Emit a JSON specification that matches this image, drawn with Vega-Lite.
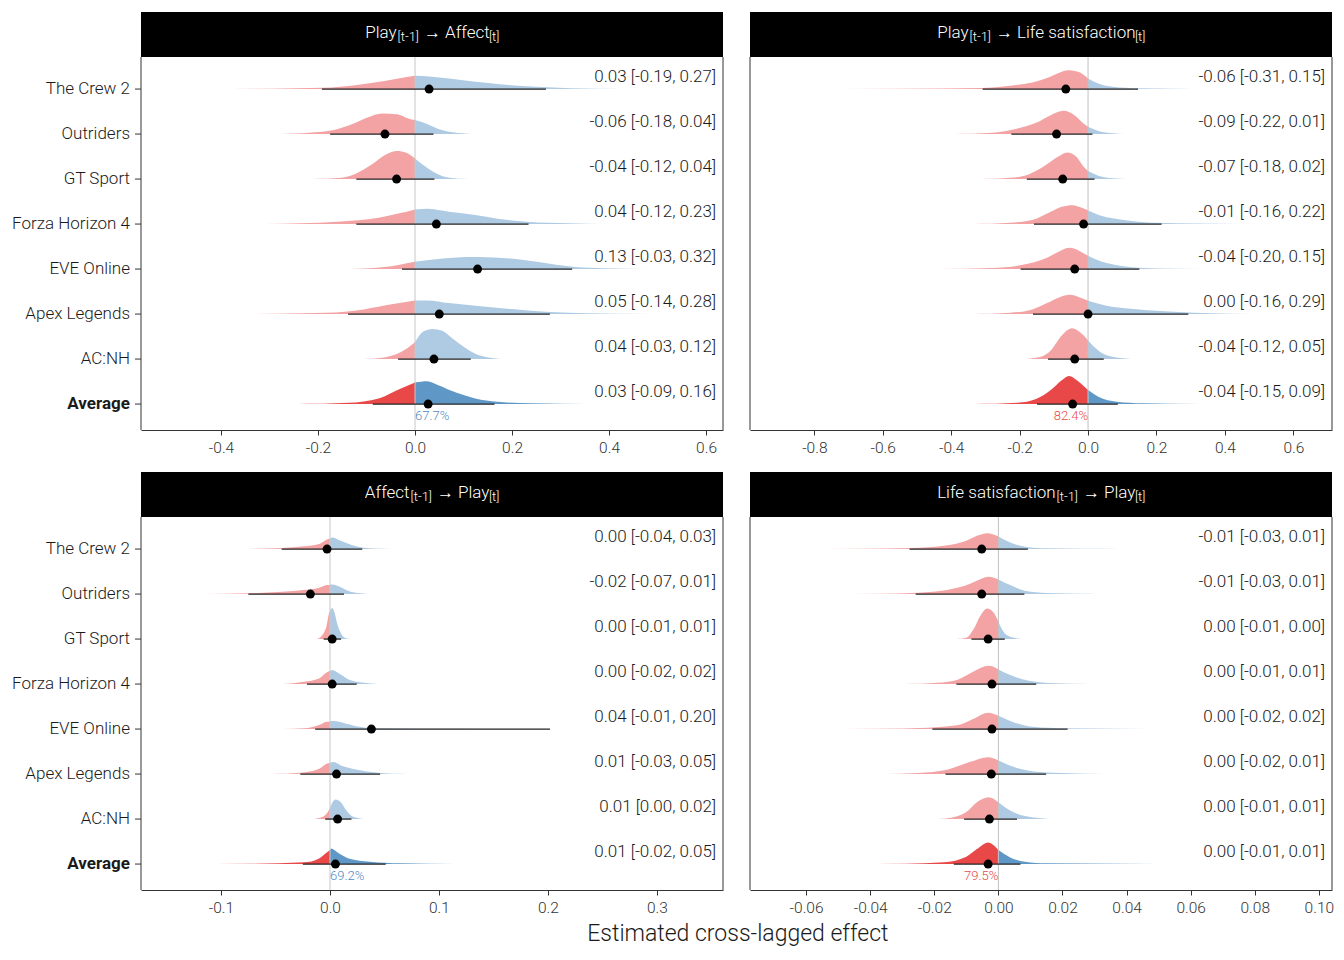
{
"$schema": "https://vega.github.io/schema/vega-lite/v6.json",
"padding": {"left": 12, "top": 12, "right": 12, "bottom": 8},
"title": {"text": "Estimated cross-lagged effect", "orient": "bottom", "anchor": "middle", "fontSize": 23, "font": "Roboto", "fontWeight": 300, "color": "#1a1a1a", "offset": 7, "dx": 65},
"columns": 2,
"spacing": {"row": 16, "column": 25},
"resolve": {"scale": {"x": "independent", "y": "independent"}},
"config": {"view": {"stroke": null}, "font": "Roboto", "text": {"font": "Roboto", "fontWeight": 300, "color": "#1a1a1a"}},
"datasets": {
"A": [
{"g":"_strip"},
{"g":"The Crew 2","e":0.029,"lo":-0.192,"hi":0.27,"t":"0.03 [-0.19, 0.27]"},
{"g":"Outriders","e":-0.062,"lo":-0.175,"hi":0.038,"t":"-0.06 [-0.18, 0.04]"},
{"g":"GT Sport","e":-0.038,"lo":-0.121,"hi":0.04,"t":"-0.04 [-0.12, 0.04]"},
{"g":"Forza Horizon 4","e":0.044,"lo":-0.121,"hi":0.234,"t":"0.04 [-0.12, 0.23]"},
{"g":"EVE Online","e":0.129,"lo":-0.027,"hi":0.324,"t":"0.13 [-0.03, 0.32]"},
{"g":"Apex Legends","e":0.05,"lo":-0.138,"hi":0.278,"t":"0.05 [-0.14, 0.28]"},
{"g":"AC:NH","e":0.039,"lo":-0.035,"hi":0.115,"t":"0.04 [-0.03, 0.12]"},
{"g":"Average","e":0.027,"lo":-0.087,"hi":0.164,"t":"0.03 [-0.09, 0.16]","pct":"67.7%"},
{"g":"The Crew 2","s":"n","x":-0.43,"h":0},{"g":"The Crew 2","s":"n","x":-0.30,"h":0.4},{"g":"The Crew 2","s":"n","x":-0.19,"h":1.2},{"g":"The Crew 2","s":"n","x":-0.12,"h":4.2},{"g":"The Crew 2","s":"n","x":-0.06,"h":8.3},{"g":"The Crew 2","s":"n","x":-0.02,"h":11.8},{"g":"The Crew 2","s":"n","x":0,"h":13.3},
{"g":"The Crew 2","s":"p","x":0,"h":13.3},{"g":"The Crew 2","s":"p","x":0.03,"h":12.6},{"g":"The Crew 2","s":"p","x":0.07,"h":10.5},{"g":"The Crew 2","s":"p","x":0.12,"h":7.5},{"g":"The Crew 2","s":"p","x":0.18,"h":4.5},{"g":"The Crew 2","s":"p","x":0.25,"h":2.2},{"g":"The Crew 2","s":"p","x":0.32,"h":0.8},{"g":"The Crew 2","s":"p","x":0.43,"h":0},
{"g":"Outriders","s":"n","x":-0.28,"h":0},{"g":"Outriders","s":"n","x":-0.206,"h":1.7},{"g":"Outriders","s":"n","x":-0.167,"h":4},{"g":"Outriders","s":"n","x":-0.129,"h":10},{"g":"Outriders","s":"n","x":-0.098,"h":16.7},{"g":"Outriders","s":"n","x":-0.068,"h":20.7},{"g":"Outriders","s":"n","x":-0.037,"h":20},{"g":"Outriders","s":"n","x":-0.014,"h":15.7},{"g":"Outriders","s":"n","x":0,"h":14},
{"g":"Outriders","s":"p","x":0,"h":14},{"g":"Outriders","s":"p","x":0.025,"h":10},{"g":"Outriders","s":"p","x":0.048,"h":5},{"g":"Outriders","s":"p","x":0.078,"h":1.7},{"g":"Outriders","s":"p","x":0.117,"h":0},
{"g":"GT Sport","s":"n","x":-0.213,"h":0},{"g":"GT Sport","s":"n","x":-0.152,"h":1.3},{"g":"GT Sport","s":"n","x":-0.121,"h":5.7},{"g":"GT Sport","s":"n","x":-0.091,"h":14},{"g":"GT Sport","s":"n","x":-0.06,"h":24.7},{"g":"GT Sport","s":"n","x":-0.037,"h":28.3},{"g":"GT Sport","s":"n","x":-0.018,"h":26.3},{"g":"GT Sport","s":"n","x":0,"h":20.7},
{"g":"GT Sport","s":"p","x":0,"h":20.7},{"g":"GT Sport","s":"p","x":0.017,"h":14},{"g":"GT Sport","s":"p","x":0.04,"h":6.7},{"g":"GT Sport","s":"p","x":0.071,"h":1.3},{"g":"GT Sport","s":"p","x":0.109,"h":0},
{"g":"Forza Horizon 4","s":"n","x":-0.31,"h":0},{"g":"Forza Horizon 4","s":"n","x":-0.16,"h":2.3},{"g":"Forza Horizon 4","s":"n","x":-0.075,"h":6.3},{"g":"Forza Horizon 4","s":"n","x":-0.03,"h":11},{"g":"Forza Horizon 4","s":"n","x":0,"h":14.7},
{"g":"Forza Horizon 4","s":"p","x":0,"h":14.7},{"g":"Forza Horizon 4","s":"p","x":0.025,"h":15.3},{"g":"Forza Horizon 4","s":"p","x":0.07,"h":12.3},{"g":"Forza Horizon 4","s":"p","x":0.124,"h":9},{"g":"Forza Horizon 4","s":"p","x":0.17,"h":5.3},{"g":"Forza Horizon 4","s":"p","x":0.23,"h":2.3},{"g":"Forza Horizon 4","s":"p","x":0.316,"h":0.7},{"g":"Forza Horizon 4","s":"p","x":0.39,"h":0},
{"g":"EVE Online","s":"n","x":-0.137,"h":0},{"g":"EVE Online","s":"n","x":-0.068,"h":1.7},{"g":"EVE Online","s":"n","x":-0.029,"h":4.7},{"g":"EVE Online","s":"n","x":0,"h":7.3},
{"g":"EVE Online","s":"p","x":0,"h":7.3},{"g":"EVE Online","s":"p","x":0.048,"h":10},{"g":"EVE Online","s":"p","x":0.109,"h":12},{"g":"EVE Online","s":"p","x":0.163,"h":11.7},{"g":"EVE Online","s":"p","x":0.224,"h":9},{"g":"EVE Online","s":"p","x":0.278,"h":5.3},{"g":"EVE Online","s":"p","x":0.33,"h":2},{"g":"EVE Online","s":"p","x":0.39,"h":0.7},{"g":"EVE Online","s":"p","x":0.48,"h":0},
{"g":"Apex Legends","s":"n","x":-0.344,"h":0},{"g":"Apex Legends","s":"n","x":-0.183,"h":1.3},{"g":"Apex Legends","s":"n","x":-0.106,"h":4.7},{"g":"Apex Legends","s":"n","x":-0.045,"h":10},{"g":"Apex Legends","s":"n","x":0,"h":13.7},
{"g":"Apex Legends","s":"p","x":0,"h":13.7},{"g":"Apex Legends","s":"p","x":0.025,"h":13.7},{"g":"Apex Legends","s":"p","x":0.07,"h":11},{"g":"Apex Legends","s":"p","x":0.14,"h":7.7},{"g":"Apex Legends","s":"p","x":0.2,"h":5},{"g":"Apex Legends","s":"p","x":0.278,"h":2},{"g":"Apex Legends","s":"p","x":0.355,"h":0.7},{"g":"Apex Legends","s":"p","x":0.49,"h":0},
{"g":"AC:NH","s":"n","x":-0.106,"h":0},{"g":"AC:NH","s":"n","x":-0.068,"h":1.3},{"g":"AC:NH","s":"n","x":-0.029,"h":7},{"g":"AC:NH","s":"n","x":0,"h":17},
{"g":"AC:NH","s":"p","x":0,"h":17},{"g":"AC:NH","s":"p","x":0.017,"h":27.7},{"g":"AC:NH","s":"p","x":0.036,"h":30.3},{"g":"AC:NH","s":"p","x":0.055,"h":28.7},{"g":"AC:NH","s":"p","x":0.078,"h":20.3},{"g":"AC:NH","s":"p","x":0.101,"h":12},{"g":"AC:NH","s":"p","x":0.132,"h":3.7},{"g":"AC:NH","s":"p","x":0.178,"h":0},
{"g":"Average","s":"n","x":-0.244,"h":0},{"g":"Average","s":"n","x":-0.137,"h":1.3},{"g":"Average","s":"n","x":-0.075,"h":5.7},{"g":"Average","s":"n","x":-0.029,"h":15.7},{"g":"Average","s":"n","x":0,"h":21.7},
{"g":"Average","s":"p","x":0,"h":21.7},{"g":"Average","s":"p","x":0.025,"h":23},{"g":"Average","s":"p","x":0.048,"h":19},{"g":"Average","s":"p","x":0.086,"h":11.3},{"g":"Average","s":"p","x":0.124,"h":5.7},{"g":"Average","s":"p","x":0.17,"h":2.3},{"g":"Average","s":"p","x":0.24,"h":0.7},{"g":"Average","s":"p","x":0.355,"h":0}
],
"B": [
{"g":"_strip"},
{"g":"The Crew 2","e":-0.065,"lo":-0.308,"hi":0.146,"t":"-0.06 [-0.31, 0.15]"},
{"g":"Outriders","e":-0.092,"lo":-0.224,"hi":0.013,"t":"-0.09 [-0.22, 0.01]"},
{"g":"GT Sport","e":-0.074,"lo":-0.179,"hi":0.019,"t":"-0.07 [-0.18, 0.02]"},
{"g":"Forza Horizon 4","e":-0.013,"lo":-0.158,"hi":0.215,"t":"-0.01 [-0.16, 0.22]"},
{"g":"EVE Online","e":-0.039,"lo":-0.197,"hi":0.15,"t":"-0.04 [-0.20, 0.15]"},
{"g":"Apex Legends","e":0.0,"lo":-0.161,"hi":0.293,"t":"0.00 [-0.16, 0.29]"},
{"g":"AC:NH","e":-0.039,"lo":-0.117,"hi":0.046,"t":"-0.04 [-0.12, 0.05]"},
{"g":"Average","e":-0.045,"lo":-0.149,"hi":0.087,"t":"-0.04 [-0.15, 0.09]","pct":"82.4%"},
{"g":"The Crew 2","s":"n","x":-0.88,"h":0},{"g":"The Crew 2","s":"n","x":-0.55,"h":0.3},{"g":"The Crew 2","s":"n","x":-0.313,"h":1},{"g":"The Crew 2","s":"n","x":-0.227,"h":3.3},{"g":"The Crew 2","s":"n","x":-0.163,"h":6.7},{"g":"The Crew 2","s":"n","x":-0.12,"h":11},{"g":"The Crew 2","s":"n","x":-0.088,"h":16},{"g":"The Crew 2","s":"n","x":-0.058,"h":19},{"g":"The Crew 2","s":"n","x":-0.029,"h":17.3},{"g":"The Crew 2","s":"n","x":0,"h":10.7},
{"g":"The Crew 2","s":"p","x":0,"h":10.7},{"g":"The Crew 2","s":"p","x":0.03,"h":5.7},{"g":"The Crew 2","s":"p","x":0.073,"h":2.3},{"g":"The Crew 2","s":"p","x":0.148,"h":0.7},{"g":"The Crew 2","s":"p","x":0.255,"h":0.2},{"g":"The Crew 2","s":"p","x":0.36,"h":0},
{"g":"Outriders","s":"n","x":-0.39,"h":0},{"g":"Outriders","s":"n","x":-0.281,"h":1.3},{"g":"Outriders","s":"n","x":-0.206,"h":5.7},{"g":"Outriders","s":"n","x":-0.152,"h":11.3},{"g":"Outriders","s":"n","x":-0.109,"h":19},{"g":"Outriders","s":"n","x":-0.072,"h":23.3},{"g":"Outriders","s":"n","x":-0.04,"h":19},{"g":"Outriders","s":"n","x":-0.013,"h":10.7},{"g":"Outriders","s":"n","x":0,"h":7.3},
{"g":"Outriders","s":"p","x":0,"h":7.3},{"g":"Outriders","s":"p","x":0.03,"h":3},{"g":"Outriders","s":"p","x":0.073,"h":0.7},{"g":"Outriders","s":"p","x":0.105,"h":0},
{"g":"GT Sport","s":"n","x":-0.313,"h":0},{"g":"GT Sport","s":"n","x":-0.227,"h":1.3},{"g":"GT Sport","s":"n","x":-0.174,"h":4.7},{"g":"GT Sport","s":"n","x":-0.131,"h":12.3},{"g":"GT Sport","s":"n","x":-0.088,"h":22.3},{"g":"GT Sport","s":"n","x":-0.061,"h":26.7},{"g":"GT Sport","s":"n","x":-0.034,"h":22.3},{"g":"GT Sport","s":"n","x":-0.013,"h":12.3},{"g":"GT Sport","s":"n","x":0,"h":8},
{"g":"GT Sport","s":"p","x":0,"h":8},{"g":"GT Sport","s":"p","x":0.03,"h":3.3},{"g":"GT Sport","s":"p","x":0.073,"h":0.7},{"g":"GT Sport","s":"p","x":0.116,"h":0},
{"g":"Forza Horizon 4","s":"n","x":-0.334,"h":0},{"g":"Forza Horizon 4","s":"n","x":-0.227,"h":1.3},{"g":"Forza Horizon 4","s":"n","x":-0.163,"h":4},{"g":"Forza Horizon 4","s":"n","x":-0.109,"h":12.3},{"g":"Forza Horizon 4","s":"n","x":-0.077,"h":17.3},{"g":"Forza Horizon 4","s":"n","x":-0.045,"h":19},{"g":"Forza Horizon 4","s":"n","x":-0.018,"h":16.3},{"g":"Forza Horizon 4","s":"n","x":0,"h":13.7},
{"g":"Forza Horizon 4","s":"p","x":0,"h":13.7},{"g":"Forza Horizon 4","s":"p","x":0.041,"h":8},{"g":"Forza Horizon 4","s":"p","x":0.094,"h":4.7},{"g":"Forza Horizon 4","s":"p","x":0.2,"h":1.3},{"g":"Forza Horizon 4","s":"p","x":0.31,"h":0.5},{"g":"Forza Horizon 4","s":"p","x":0.45,"h":0},
{"g":"EVE Online","s":"n","x":-0.44,"h":0},{"g":"EVE Online","s":"n","x":-0.281,"h":1},{"g":"EVE Online","s":"n","x":-0.195,"h":4},{"g":"EVE Online","s":"n","x":-0.12,"h":11.3},{"g":"EVE Online","s":"n","x":-0.083,"h":18},{"g":"EVE Online","s":"n","x":-0.054,"h":21.3},{"g":"EVE Online","s":"n","x":-0.024,"h":18},{"g":"EVE Online","s":"n","x":0,"h":13.3},
{"g":"EVE Online","s":"p","x":0,"h":13.3},{"g":"EVE Online","s":"p","x":0.041,"h":7.3},{"g":"EVE Online","s":"p","x":0.094,"h":3.3},{"g":"EVE Online","s":"p","x":0.159,"h":1},{"g":"EVE Online","s":"p","x":0.255,"h":0.3},{"g":"EVE Online","s":"p","x":0.416,"h":0},
{"g":"Apex Legends","s":"n","x":-0.334,"h":0},{"g":"Apex Legends","s":"n","x":-0.227,"h":1.3},{"g":"Apex Legends","s":"n","x":-0.163,"h":4.7},{"g":"Apex Legends","s":"n","x":-0.12,"h":11},{"g":"Apex Legends","s":"n","x":-0.083,"h":17},{"g":"Apex Legends","s":"n","x":-0.054,"h":19.3},{"g":"Apex Legends","s":"n","x":-0.024,"h":16.7},{"g":"Apex Legends","s":"n","x":0,"h":13.3},
{"g":"Apex Legends","s":"p","x":0,"h":13.3},{"g":"Apex Legends","s":"p","x":0.051,"h":8.7},{"g":"Apex Legends","s":"p","x":0.126,"h":5.3},{"g":"Apex Legends","s":"p","x":0.223,"h":2.7},{"g":"Apex Legends","s":"p","x":0.309,"h":1.3},{"g":"Apex Legends","s":"p","x":0.416,"h":0.4},{"g":"Apex Legends","s":"p","x":0.61,"h":0},
{"g":"AC:NH","s":"n","x":-0.184,"h":0},{"g":"AC:NH","s":"n","x":-0.141,"h":2},{"g":"AC:NH","s":"n","x":-0.109,"h":8.7},{"g":"AC:NH","s":"n","x":-0.077,"h":23.7},{"g":"AC:NH","s":"n","x":-0.047,"h":31},{"g":"AC:NH","s":"n","x":-0.018,"h":25.3},{"g":"AC:NH","s":"n","x":0,"h":18.7},
{"g":"AC:NH","s":"p","x":0,"h":18.7},{"g":"AC:NH","s":"p","x":0.03,"h":8.7},{"g":"AC:NH","s":"p","x":0.062,"h":3},{"g":"AC:NH","s":"p","x":0.126,"h":0},
{"g":"Average","s":"n","x":-0.334,"h":0},{"g":"Average","s":"n","x":-0.206,"h":1.3},{"g":"Average","s":"n","x":-0.152,"h":5},{"g":"Average","s":"n","x":-0.109,"h":14},{"g":"Average","s":"n","x":-0.077,"h":24},{"g":"Average","s":"n","x":-0.056,"h":28.3},{"g":"Average","s":"n","x":-0.029,"h":23},{"g":"Average","s":"n","x":0,"h":14},
{"g":"Average","s":"p","x":0,"h":14},{"g":"Average","s":"p","x":0.03,"h":7.3},{"g":"Average","s":"p","x":0.084,"h":2.3},{"g":"Average","s":"p","x":0.159,"h":0.7},{"g":"Average","s":"p","x":0.33,"h":0}
],
"C": [
{"g":"_strip"},
{"g":"The Crew 2","e":-0.0027,"lo":-0.0443,"hi":0.0296,"t":"0.00 [-0.04, 0.03]"},
{"g":"Outriders","e":-0.018,"lo":-0.0749,"hi":0.0129,"t":"-0.02 [-0.07, 0.01]"},
{"g":"GT Sport","e":0.002,"lo":-0.0058,"hi":0.0102,"t":"0.00 [-0.01, 0.01]"},
{"g":"Forza Horizon 4","e":0.002,"lo":-0.0211,"hi":0.0245,"t":"0.00 [-0.02, 0.02]"},
{"g":"EVE Online","e":0.038,"lo":-0.0136,"hi":0.2019,"t":"0.04 [-0.01, 0.20]"},
{"g":"Apex Legends","e":0.006,"lo":-0.0272,"hi":0.046,"t":"0.01 [-0.03, 0.05]"},
{"g":"AC:NH","e":0.007,"lo":-0.0044,"hi":0.0197,"t":"0.01 [0.00, 0.02]"},
{"g":"Average","e":0.005,"lo":-0.0249,"hi":0.0511,"t":"0.01 [-0.02, 0.05]","pct":"69.2%"},
{"g":"The Crew 2","s":"n","x":-0.085,"h":0},{"g":"The Crew 2","s":"n","x":-0.044,"h":1},{"g":"The Crew 2","s":"n","x":-0.024,"h":2.7},{"g":"The Crew 2","s":"n","x":-0.010,"h":5},{"g":"The Crew 2","s":"n","x":-0.003,"h":9.3},{"g":"The Crew 2","s":"n","x":0,"h":10.5},
{"g":"The Crew 2","s":"p","x":0,"h":10.5},{"g":"The Crew 2","s":"p","x":0.002,"h":11.7},{"g":"The Crew 2","s":"p","x":0.010,"h":8.3},{"g":"The Crew 2","s":"p","x":0.020,"h":4},{"g":"The Crew 2","s":"p","x":0.031,"h":1.3},{"g":"The Crew 2","s":"p","x":0.048,"h":0.3},{"g":"The Crew 2","s":"p","x":0.065,"h":0},
{"g":"Outriders","s":"n","x":-0.116,"h":0},{"g":"Outriders","s":"n","x":-0.075,"h":0.7},{"g":"Outriders","s":"n","x":-0.044,"h":2.3},{"g":"Outriders","s":"n","x":-0.024,"h":4},{"g":"Outriders","s":"n","x":-0.010,"h":6.3},{"g":"Outriders","s":"n","x":-0.003,"h":9},{"g":"Outriders","s":"n","x":0,"h":9.4},
{"g":"Outriders","s":"p","x":0,"h":9.4},{"g":"Outriders","s":"p","x":0.002,"h":9.7},{"g":"Outriders","s":"p","x":0.009,"h":7.3},{"g":"Outriders","s":"p","x":0.017,"h":3},{"g":"Outriders","s":"p","x":0.028,"h":0.7},{"g":"Outriders","s":"p","x":0.036,"h":0},
{"g":"GT Sport","s":"n","x":-0.012,"h":0},{"g":"GT Sport","s":"n","x":-0.007,"h":4},{"g":"GT Sport","s":"n","x":-0.003,"h":14},{"g":"GT Sport","s":"n","x":-0.001,"h":25.7},{"g":"GT Sport","s":"n","x":0,"h":28.5},
{"g":"GT Sport","s":"p","x":0,"h":28.5},{"g":"GT Sport","s":"p","x":0.002,"h":31.3},{"g":"GT Sport","s":"p","x":0.004,"h":27.3},{"g":"GT Sport","s":"p","x":0.007,"h":14},{"g":"GT Sport","s":"p","x":0.011,"h":4},{"g":"GT Sport","s":"p","x":0.015,"h":0.5},{"g":"GT Sport","s":"p","x":0.019,"h":0},
{"g":"Forza Horizon 4","s":"n","x":-0.044,"h":0},{"g":"Forza Horizon 4","s":"n","x":-0.024,"h":2.3},{"g":"Forza Horizon 4","s":"n","x":-0.010,"h":5.7},{"g":"Forza Horizon 4","s":"n","x":-0.003,"h":11.7},{"g":"Forza Horizon 4","s":"n","x":0,"h":13},
{"g":"Forza Horizon 4","s":"p","x":0,"h":13},{"g":"Forza Horizon 4","s":"p","x":0.002,"h":14},{"g":"Forza Horizon 4","s":"p","x":0.009,"h":10},{"g":"Forza Horizon 4","s":"p","x":0.017,"h":4.7},{"g":"Forza Horizon 4","s":"p","x":0.031,"h":1.3},{"g":"Forza Horizon 4","s":"p","x":0.044,"h":0},
{"g":"EVE Online","s":"n","x":-0.044,"h":0},{"g":"EVE Online","s":"n","x":-0.024,"h":0.7},{"g":"EVE Online","s":"n","x":-0.010,"h":4},{"g":"EVE Online","s":"n","x":-0.003,"h":7.3},{"g":"EVE Online","s":"n","x":0,"h":7.7},
{"g":"EVE Online","s":"p","x":0,"h":7.7},{"g":"EVE Online","s":"p","x":0.003,"h":8},{"g":"EVE Online","s":"p","x":0.014,"h":5.7},{"g":"EVE Online","s":"p","x":0.027,"h":2.3},{"g":"EVE Online","s":"p","x":0.044,"h":0.7},{"g":"EVE Online","s":"p","x":0.082,"h":0.3},{"g":"EVE Online","s":"p","x":0.15,"h":0.15},{"g":"EVE Online","s":"p","x":0.26,"h":0},
{"g":"Apex Legends","s":"n","x":-0.054,"h":0},{"g":"Apex Legends","s":"n","x":-0.027,"h":1.3},{"g":"Apex Legends","s":"n","x":-0.010,"h":5.3},{"g":"Apex Legends","s":"n","x":-0.003,"h":10.3},{"g":"Apex Legends","s":"n","x":0,"h":11.3},
{"g":"Apex Legends","s":"p","x":0,"h":11.3},{"g":"Apex Legends","s":"p","x":0.003,"h":12},{"g":"Apex Legends","s":"p","x":0.010,"h":8.7},{"g":"Apex Legends","s":"p","x":0.024,"h":4.7},{"g":"Apex Legends","s":"p","x":0.044,"h":1.3},{"g":"Apex Legends","s":"p","x":0.071,"h":0},
{"g":"AC:NH","s":"n","x":-0.015,"h":0},{"g":"AC:NH","s":"n","x":-0.007,"h":2},{"g":"AC:NH","s":"n","x":-0.002,"h":7},{"g":"AC:NH","s":"n","x":0,"h":11},
{"g":"AC:NH","s":"p","x":0,"h":11},{"g":"AC:NH","s":"p","x":0.002,"h":16.3},{"g":"AC:NH","s":"p","x":0.005,"h":19.7},{"g":"AC:NH","s":"p","x":0.010,"h":17},{"g":"AC:NH","s":"p","x":0.015,"h":8.7},{"g":"AC:NH","s":"p","x":0.022,"h":2},{"g":"AC:NH","s":"p","x":0.031,"h":0},
{"g":"Average","s":"n","x":-0.14,"h":0},{"g":"Average","s":"n","x":-0.071,"h":0.3},{"g":"Average","s":"n","x":-0.024,"h":1.7},{"g":"Average","s":"n","x":-0.010,"h":5.7},{"g":"Average","s":"n","x":-0.003,"h":11.7},{"g":"Average","s":"n","x":0,"h":14},
{"g":"Average","s":"p","x":0,"h":14},{"g":"Average","s":"p","x":0.001,"h":15.7},{"g":"Average","s":"p","x":0.007,"h":11.7},{"g":"Average","s":"p","x":0.017,"h":5.7},{"g":"Average","s":"p","x":0.037,"h":2.3},{"g":"Average","s":"p","x":0.065,"h":0.7},{"g":"Average","s":"p","x":0.116,"h":0}
],
"D": [
{"g":"_strip"},
{"g":"The Crew 2","e":-0.0052,"lo":-0.0277,"hi":0.0092,"t":"-0.01 [-0.03, 0.01]"},
{"g":"Outriders","e":-0.0052,"lo":-0.0258,"hi":0.0081,"t":"-0.01 [-0.03, 0.01]"},
{"g":"GT Sport","e":-0.0032,"lo":-0.0084,"hi":0.002,"t":"0.00 [-0.01, 0.00]"},
{"g":"Forza Horizon 4","e":-0.002,"lo":-0.0131,"hi":0.0118,"t":"0.00 [-0.01, 0.01]"},
{"g":"EVE Online","e":-0.002,"lo":-0.0206,"hi":0.0216,"t":"0.00 [-0.02, 0.02]"},
{"g":"Apex Legends","e":-0.0022,"lo":-0.0165,"hi":0.0149,"t":"0.00 [-0.02, 0.01]"},
{"g":"AC:NH","e":-0.0028,"lo":-0.0107,"hi":0.0058,"t":"0.00 [-0.01, 0.01]"},
{"g":"Average","e":-0.0032,"lo":-0.0139,"hi":0.0069,"t":"0.00 [-0.01, 0.01]","pct":"79.5%"},
{"g":"The Crew 2","s":"n","x":-0.066,"h":0},{"g":"The Crew 2","s":"n","x":-0.043,"h":0.3},{"g":"The Crew 2","s":"n","x":-0.027,"h":1},{"g":"The Crew 2","s":"n","x":-0.017,"h":3.3},{"g":"The Crew 2","s":"n","x":-0.010,"h":8.3},{"g":"The Crew 2","s":"n","x":-0.0067,"h":13.3},{"g":"The Crew 2","s":"n","x":-0.0035,"h":16},{"g":"The Crew 2","s":"n","x":0,"h":12.7},
{"g":"The Crew 2","s":"p","x":0,"h":12.7},{"g":"The Crew 2","s":"p","x":0.0037,"h":6.7},{"g":"The Crew 2","s":"p","x":0.0083,"h":2.3},{"g":"The Crew 2","s":"p","x":0.015,"h":0.7},{"g":"The Crew 2","s":"p","x":0.027,"h":0.2},{"g":"The Crew 2","s":"p","x":0.038,"h":0},
{"g":"Outriders","s":"n","x":-0.054,"h":0},{"g":"Outriders","s":"n","x":-0.037,"h":0.3},{"g":"Outriders","s":"n","x":-0.025,"h":1.3},{"g":"Outriders","s":"n","x":-0.016,"h":4},{"g":"Outriders","s":"n","x":-0.009,"h":10},{"g":"Outriders","s":"n","x":-0.0055,"h":15},{"g":"Outriders","s":"n","x":-0.0032,"h":17.3},{"g":"Outriders","s":"n","x":0,"h":14.7},
{"g":"Outriders","s":"p","x":0,"h":14.7},{"g":"Outriders","s":"p","x":0.0037,"h":9},{"g":"Outriders","s":"p","x":0.0083,"h":3.3},{"g":"Outriders","s":"p","x":0.015,"h":1},{"g":"Outriders","s":"p","x":0.027,"h":0.2},{"g":"Outriders","s":"p","x":0.03,"h":0},
{"g":"GT Sport","s":"n","x":-0.013,"h":0},{"g":"GT Sport","s":"n","x":-0.010,"h":1.3},{"g":"GT Sport","s":"n","x":-0.0079,"h":9},{"g":"GT Sport","s":"n","x":-0.0055,"h":24},{"g":"GT Sport","s":"n","x":-0.0035,"h":30.7},{"g":"GT Sport","s":"n","x":-0.0015,"h":26.7},{"g":"GT Sport","s":"n","x":0,"h":17.3},
{"g":"GT Sport","s":"p","x":0,"h":17.3},{"g":"GT Sport","s":"p","x":0.002,"h":5.7},{"g":"GT Sport","s":"p","x":0.0049,"h":1.3},{"g":"GT Sport","s":"p","x":0.0072,"h":0},
{"g":"Forza Horizon 4","s":"n","x":-0.029,"h":0},{"g":"Forza Horizon 4","s":"n","x":-0.019,"h":1.3},{"g":"Forza Horizon 4","s":"n","x":-0.0125,"h":4.7},{"g":"Forza Horizon 4","s":"n","x":-0.0079,"h":12.3},{"g":"Forza Horizon 4","s":"n","x":-0.003,"h":18.3},{"g":"Forza Horizon 4","s":"n","x":0,"h":14.7},
{"g":"Forza Horizon 4","s":"p","x":0,"h":14.7},{"g":"Forza Horizon 4","s":"p","x":0.0037,"h":9},{"g":"Forza Horizon 4","s":"p","x":0.0095,"h":3.3},{"g":"Forza Horizon 4","s":"p","x":0.0176,"h":0.7},{"g":"Forza Horizon 4","s":"p","x":0.029,"h":0},
{"g":"EVE Online","s":"n","x":-0.062,"h":0},{"g":"EVE Online","s":"n","x":-0.037,"h":0.3},{"g":"EVE Online","s":"n","x":-0.022,"h":1.3},{"g":"EVE Online","s":"n","x":-0.0125,"h":4},{"g":"EVE Online","s":"n","x":-0.0079,"h":10},{"g":"EVE Online","s":"n","x":-0.0032,"h":16.3},{"g":"EVE Online","s":"n","x":0,"h":13.3},
{"g":"EVE Online","s":"p","x":0,"h":13.3},{"g":"EVE Online","s":"p","x":0.0049,"h":6.7},{"g":"EVE Online","s":"p","x":0.0106,"h":2.3},{"g":"EVE Online","s":"p","x":0.021,"h":0.7},{"g":"EVE Online","s":"p","x":0.038,"h":0.2},{"g":"EVE Online","s":"p","x":0.055,"h":0},
{"g":"Apex Legends","s":"n","x":-0.036,"h":0},{"g":"Apex Legends","s":"n","x":-0.025,"h":1},{"g":"Apex Legends","s":"n","x":-0.016,"h":4.3},{"g":"Apex Legends","s":"n","x":-0.009,"h":12},{"g":"Apex Legends","s":"n","x":-0.0032,"h":17},{"g":"Apex Legends","s":"n","x":0,"h":13.7},
{"g":"Apex Legends","s":"p","x":0,"h":13.7},{"g":"Apex Legends","s":"p","x":0.0049,"h":7},{"g":"Apex Legends","s":"p","x":0.0129,"h":2},{"g":"Apex Legends","s":"p","x":0.022,"h":0.7},{"g":"Apex Legends","s":"p","x":0.034,"h":0},
{"g":"AC:NH","s":"n","x":-0.019,"h":0},{"g":"AC:NH","s":"n","x":-0.0148,"h":1.3},{"g":"AC:NH","s":"n","x":-0.010,"h":7},{"g":"AC:NH","s":"n","x":-0.0067,"h":17},{"g":"AC:NH","s":"n","x":-0.003,"h":22},{"g":"AC:NH","s":"n","x":0,"h":17},
{"g":"AC:NH","s":"p","x":0,"h":17},{"g":"AC:NH","s":"p","x":0.0037,"h":8.7},{"g":"AC:NH","s":"p","x":0.0083,"h":3},{"g":"AC:NH","s":"p","x":0.015,"h":0.3},{"g":"AC:NH","s":"p","x":0.017,"h":0},
{"g":"Average","s":"n","x":-0.048,"h":0},{"g":"Average","s":"n","x":-0.029,"h":0.3},{"g":"Average","s":"n","x":-0.017,"h":1.7},{"g":"Average","s":"n","x":-0.010,"h":7.3},{"g":"Average","s":"n","x":-0.0067,"h":15},{"g":"Average","s":"n","x":-0.0032,"h":21.7},{"g":"Average","s":"n","x":0,"h":14},
{"g":"Average","s":"p","x":0,"h":14},{"g":"Average","s":"p","x":0.0037,"h":6.7},{"g":"Average","s":"p","x":0.0083,"h":2.3},{"g":"Average","s":"p","x":0.015,"h":0.7},{"g":"Average","s":"p","x":0.038,"h":0.2},{"g":"Average","s":"p","x":0.061,"h":0}
]
},
"concat": [
{
"data": {"name": "A"},
"spacing": {"row": 0},
"bounds": "flush",
"facet": {"row": {"field": "g", "type": "nominal", "sort": ["_strip","The Crew 2","Outriders","GT Sport","Forza Horizon 4","EVE Online","Apex Legends","AC:NH","Average"], "header": {"title": null, "labels": false}}},
"spec": {
"width": 582, "height": 45,
"layer": [
{"transform": [{"filter": "isValid(datum.s)"}], "mark": {"type": "area", "interpolate": "monotone"},
 "encoding": {
  "x": {"field": "x", "type": "quantitative", "scale": {"domain": [-0.565, 0.635], "nice": false, "zero": false}, "axis": {"title": null, "values": [-0.4,-0.2,0,0.2,0.4,0.6], "format": ".1f", "labelExpr": "replace(datum.label, '−', '-')", "offset": 13, "domainColor": "#333333", "tickColor": "#333333", "tickSize": 5, "labelFontSize": 15.5, "labelColor": "#333333", "labelPadding": 5, "grid": false, "labelFontWeight": 300, "labelFont": "Roboto"}},
  "y": {"field": "h", "type": "quantitative", "scale": {"domain": [-13, 32.2], "nice": false, "zero": false}, "axis": null, "stack": null},
  "y2": {"datum": 0},
  "detail": {"field": "s"},
  "color": {"condition": [{"test": "datum.g == 'Average' && datum.s == 'n'", "value": "#e94849"}, {"test": "datum.g == 'Average'", "value": "#5f98c6"}, {"test": "datum.s == 'n'", "value": "#f4a3a4"}], "value": "#afcbe3"}}},
{"transform": [{"filter": "datum.g == '_strip'"}], "mark": {"type": "rect", "color": "black"}, "encoding": {"x": {"datum": -0.565}, "x2": {"datum": 0.635}, "y": {"datum": 32.2, "axis": null}, "y2": {"datum": -13}}},
{"transform": [{"filter": "datum.g == '_strip'"}], "mark": {"type": "text", "text": "Play", "align": "right", "baseline": "middle", "dx": -35.4, "fontSize": 17, "color": "white"}, "encoding": {"x": {"datum": 0.035}, "y": {"datum": 11.5, "axis": null}}},
{"transform": [{"filter": "datum.g == '_strip'"}], "mark": {"type": "text", "text": "[t-1]", "align": "left", "baseline": "middle", "dx": -34.4, "dy": 4.5, "fontSize": 13, "color": "white"}, "encoding": {"x": {"datum": 0.035}, "y": {"datum": 11.5, "axis": null}}},
{"transform": [{"filter": "datum.g == '_strip'"}], "mark": {"type": "text", "text": "→ Affect", "align": "left", "baseline": "middle", "dx": -8.1, "fontSize": 17, "color": "white"}, "encoding": {"x": {"datum": 0.035}, "y": {"datum": 11.5, "axis": null}}},
{"transform": [{"filter": "datum.g == '_strip'"}], "mark": {"type": "text", "text": "[t]", "align": "left", "baseline": "middle", "dx": 56.9, "dy": 4.5, "fontSize": 13, "color": "white"}, "encoding": {"x": {"datum": 0.035}, "y": {"datum": 11.5, "axis": null}}},
{"transform": [{"filter": "isValid(datum.t)"}], "mark": {"type": "rule", "color": "#c8c8c8", "strokeWidth": 1}, "encoding": {"x": {"datum": 0}, "y": {"datum": 32.2, "axis": null}, "y2": {"datum": -13}}},
{"transform": [{"filter": "isValid(datum.t)"}], "mark": {"type": "rule", "color": "#333333", "strokeWidth": 1}, "encoding": {"x": {"datum": -0.565}, "y": {"datum": 32.2, "axis": null}, "y2": {"datum": -13}}},
{"transform": [{"filter": "isValid(datum.t)"}], "mark": {"type": "rule", "color": "#333333", "strokeWidth": 1}, "encoding": {"x": {"datum": 0.635}, "y": {"datum": 32.2, "axis": null}, "y2": {"datum": -13}}},
{"transform": [{"filter": "datum.g == 'Average' && isValid(datum.t)"}], "mark": {"type": "rule", "color": "#c8c8c8", "strokeWidth": 1}, "encoding": {"x": {"datum": 0}, "y": {"datum": -13, "axis": null}, "y2": {"datum": -26}}},
{"transform": [{"filter": "datum.g == 'Average' && isValid(datum.t)"}], "mark": {"type": "rule", "color": "#333333", "strokeWidth": 1}, "encoding": {"x": {"datum": -0.565}, "y": {"datum": -13, "axis": null}, "y2": {"datum": -26}}},
{"transform": [{"filter": "datum.g == 'Average' && isValid(datum.t)"}], "mark": {"type": "rule", "color": "#333333", "strokeWidth": 1}, "encoding": {"x": {"datum": 0.635}, "y": {"datum": -13, "axis": null}, "y2": {"datum": -26}}},
{"transform": [{"filter": "isValid(datum.t)"}], "mark": {"type": "rule", "color": "#222222", "strokeWidth": 1.3}, "encoding": {"x": {"field": "lo", "type": "quantitative"}, "x2": {"field": "hi"}, "y": {"datum": 0, "axis": null}}},
{"transform": [{"filter": "isValid(datum.t)"}], "mark": {"type": "circle", "color": "black", "opacity": 1, "size": 80}, "encoding": {"x": {"field": "e", "type": "quantitative"}, "y": {"datum": 0, "axis": null}}},
{"transform": [{"filter": "isValid(datum.t)"}], "mark": {"type": "text", "align": "right", "baseline": "middle", "dx": -7, "fontSize": 17}, "encoding": {"x": {"datum": 0.635}, "y": {"datum": 11.7, "axis": null}, "text": {"field": "t"}}},
{"transform": [{"filter": "isValid(datum.t) && datum.g != 'Average'"}], "mark": {"type": "text", "align": "right", "baseline": "middle", "dx": -11, "fontSize": 17}, "encoding": {"x": {"datum": -0.565}, "y": {"datum": 0, "axis": null}, "text": {"field": "g"}}},
{"transform": [{"filter": "datum.g == 'Average' && isValid(datum.t)"}], "mark": {"type": "text", "align": "right", "baseline": "middle", "dx": -11, "fontSize": 17, "fontWeight": "bold"}, "encoding": {"x": {"datum": -0.565}, "y": {"datum": 0, "axis": null}, "text": {"field": "g"}}},
{"transform": [{"filter": "isValid(datum.t)"}], "mark": {"type": "rule", "color": "#333333", "strokeWidth": 1}, "encoding": {"x": {"datum": -0.565}, "x2": {"datum": -0.5774}, "y": {"datum": 0, "axis": null}}},
{"transform": [{"filter": "datum.g == 'Average' && isValid(datum.t)"}], "mark": {"type": "text", "align": "left", "baseline": "middle", "fontSize": 13, "color": "#4f8bc4"}, "encoding": {"x": {"datum": 0}, "y": {"datum": -11.5, "axis": null}, "text": {"field": "pct"}}}
]
}
},
{
"data": {"name": "B"},
"spacing": {"row": 0},
"bounds": "flush",
"facet": {"row": {"field": "g", "type": "nominal", "sort": ["_strip","The Crew 2","Outriders","GT Sport","Forza Horizon 4","EVE Online","Apex Legends","AC:NH","Average"], "header": {"title": null, "labels": false}}},
"spec": {
"width": 582, "height": 45,
"layer": [
{"transform": [{"filter": "isValid(datum.s)"}], "mark": {"type": "area", "interpolate": "monotone"},
 "encoding": {
  "x": {"field": "x", "type": "quantitative", "scale": {"domain": [-0.988, 0.713], "nice": false, "zero": false}, "axis": {"title": null, "values": [-0.8,-0.6,-0.4,-0.2,0,0.2,0.4,0.6], "format": ".1f", "labelExpr": "replace(datum.label, '−', '-')", "offset": 13, "domainColor": "#333333", "tickColor": "#333333", "tickSize": 5, "labelFontSize": 15.5, "labelColor": "#333333", "labelPadding": 5, "grid": false, "labelFontWeight": 300, "labelFont": "Roboto"}},
  "y": {"field": "h", "type": "quantitative", "scale": {"domain": [-13, 32.2], "nice": false, "zero": false}, "axis": null, "stack": null},
  "y2": {"datum": 0},
  "detail": {"field": "s"},
  "color": {"condition": [{"test": "datum.g == 'Average' && datum.s == 'n'", "value": "#e94849"}, {"test": "datum.g == 'Average'", "value": "#5f98c6"}, {"test": "datum.s == 'n'", "value": "#f4a3a4"}], "value": "#afcbe3"}}},
{"transform": [{"filter": "datum.g == '_strip'"}], "mark": {"type": "rect", "color": "black"}, "encoding": {"x": {"datum": -0.988}, "x2": {"datum": 0.713}, "y": {"datum": 32.2, "axis": null}, "y2": {"datum": -13}}},
{"transform": [{"filter": "datum.g == '_strip'"}], "mark": {"type": "text", "text": "Play", "align": "right", "baseline": "middle", "dx": -72.4, "fontSize": 17, "color": "white"}, "encoding": {"x": {"datum": -0.1375}, "y": {"datum": 11.5, "axis": null}}},
{"transform": [{"filter": "datum.g == '_strip'"}], "mark": {"type": "text", "text": "[t-1]", "align": "left", "baseline": "middle", "dx": -71.4, "dy": 4.5, "fontSize": 13, "color": "white"}, "encoding": {"x": {"datum": -0.1375}, "y": {"datum": 11.5, "axis": null}}},
{"transform": [{"filter": "datum.g == '_strip'"}], "mark": {"type": "text", "text": "→ Life satisfaction", "align": "left", "baseline": "middle", "dx": -45.1, "fontSize": 17, "color": "white"}, "encoding": {"x": {"datum": -0.1375}, "y": {"datum": 11.5, "axis": null}}},
{"transform": [{"filter": "datum.g == '_strip'"}], "mark": {"type": "text", "text": "[t]", "align": "left", "baseline": "middle", "dx": 93.9, "dy": 4.5, "fontSize": 13, "color": "white"}, "encoding": {"x": {"datum": -0.1375}, "y": {"datum": 11.5, "axis": null}}},
{"transform": [{"filter": "isValid(datum.t)"}], "mark": {"type": "rule", "color": "#c0c0c0", "strokeWidth": 1}, "encoding": {"x": {"datum": 0}, "y": {"datum": 32.2, "axis": null}, "y2": {"datum": -13}}},
{"transform": [{"filter": "isValid(datum.t)"}], "mark": {"type": "rule", "color": "#333333", "strokeWidth": 1}, "encoding": {"x": {"datum": -0.988}, "y": {"datum": 32.2, "axis": null}, "y2": {"datum": -13}}},
{"transform": [{"filter": "isValid(datum.t)"}], "mark": {"type": "rule", "color": "#333333", "strokeWidth": 1}, "encoding": {"x": {"datum": 0.713}, "y": {"datum": 32.2, "axis": null}, "y2": {"datum": -13}}},
{"transform": [{"filter": "datum.g == 'Average' && isValid(datum.t)"}], "mark": {"type": "rule", "color": "#c0c0c0", "strokeWidth": 1}, "encoding": {"x": {"datum": 0}, "y": {"datum": -13, "axis": null}, "y2": {"datum": -26}}},
{"transform": [{"filter": "datum.g == 'Average' && isValid(datum.t)"}], "mark": {"type": "rule", "color": "#333333", "strokeWidth": 1}, "encoding": {"x": {"datum": -0.988}, "y": {"datum": -13, "axis": null}, "y2": {"datum": -26}}},
{"transform": [{"filter": "datum.g == 'Average' && isValid(datum.t)"}], "mark": {"type": "rule", "color": "#333333", "strokeWidth": 1}, "encoding": {"x": {"datum": 0.713}, "y": {"datum": -13, "axis": null}, "y2": {"datum": -26}}},
{"transform": [{"filter": "isValid(datum.t)"}], "mark": {"type": "rule", "color": "#222222", "strokeWidth": 1.3}, "encoding": {"x": {"field": "lo", "type": "quantitative"}, "x2": {"field": "hi"}, "y": {"datum": 0, "axis": null}}},
{"transform": [{"filter": "isValid(datum.t)"}], "mark": {"type": "circle", "color": "black", "opacity": 1, "size": 80}, "encoding": {"x": {"field": "e", "type": "quantitative"}, "y": {"datum": 0, "axis": null}}},
{"transform": [{"filter": "isValid(datum.t)"}], "mark": {"type": "text", "align": "right", "baseline": "middle", "dx": -7, "fontSize": 17}, "encoding": {"x": {"datum": 0.713}, "y": {"datum": 11.7, "axis": null}, "text": {"field": "t"}}},
{"transform": [{"filter": "datum.g == 'Average' && isValid(datum.t)"}], "mark": {"type": "text", "align": "right", "baseline": "middle", "fontSize": 13, "color": "#e94849"}, "encoding": {"x": {"datum": 0}, "y": {"datum": -11.5, "axis": null}, "text": {"field": "pct"}}}
]
}
},
{
"data": {"name": "C"},
"spacing": {"row": 0},
"bounds": "flush",
"facet": {"row": {"field": "g", "type": "nominal", "sort": ["_strip","The Crew 2","Outriders","GT Sport","Forza Horizon 4","EVE Online","Apex Legends","AC:NH","Average"], "header": {"title": null, "labels": false}}},
"spec": {
"width": 582, "height": 45,
"layer": [
{"transform": [{"filter": "isValid(datum.s)"}], "mark": {"type": "area", "interpolate": "monotone"},
 "encoding": {
  "x": {"field": "x", "type": "quantitative", "scale": {"domain": [-0.1734, 0.3606], "nice": false, "zero": false}, "axis": {"title": null, "values": [-0.1,0,0.1,0.2,0.3], "format": ".1f", "labelExpr": "replace(datum.label, '−', '-')", "offset": 13, "domainColor": "#333333", "tickColor": "#333333", "tickSize": 5, "labelFontSize": 15.5, "labelColor": "#333333", "labelPadding": 5, "grid": false, "labelFontWeight": 300, "labelFont": "Roboto"}},
  "y": {"field": "h", "type": "quantitative", "scale": {"domain": [-13, 32.2], "nice": false, "zero": false}, "axis": null, "stack": null},
  "y2": {"datum": 0},
  "detail": {"field": "s"},
  "color": {"condition": [{"test": "datum.g == 'Average' && datum.s == 'n'", "value": "#e94849"}, {"test": "datum.g == 'Average'", "value": "#5f98c6"}, {"test": "datum.s == 'n'", "value": "#f4a3a4"}], "value": "#afcbe3"}}},
{"transform": [{"filter": "datum.g == '_strip'"}], "mark": {"type": "rect", "color": "black"}, "encoding": {"x": {"datum": -0.1734}, "x2": {"datum": 0.3606}, "y": {"datum": 32.2, "axis": null}, "y2": {"datum": -13}}},
{"transform": [{"filter": "datum.g == '_strip'"}], "mark": {"type": "text", "text": "Affect", "align": "right", "baseline": "middle", "dx": -22.4, "fontSize": 17, "color": "white"}, "encoding": {"x": {"datum": 0.0936}, "y": {"datum": 11.5, "axis": null}}},
{"transform": [{"filter": "datum.g == '_strip'"}], "mark": {"type": "text", "text": "[t-1]", "align": "left", "baseline": "middle", "dx": -21.4, "dy": 4.5, "fontSize": 13, "color": "white"}, "encoding": {"x": {"datum": 0.0936}, "y": {"datum": 11.5, "axis": null}}},
{"transform": [{"filter": "datum.g == '_strip'"}], "mark": {"type": "text", "text": "→ Play", "align": "left", "baseline": "middle", "dx": 4.9, "fontSize": 17, "color": "white"}, "encoding": {"x": {"datum": 0.0936}, "y": {"datum": 11.5, "axis": null}}},
{"transform": [{"filter": "datum.g == '_strip'"}], "mark": {"type": "text", "text": "[t]", "align": "left", "baseline": "middle", "dx": 56.9, "dy": 4.5, "fontSize": 13, "color": "white"}, "encoding": {"x": {"datum": 0.0936}, "y": {"datum": 11.5, "axis": null}}},
{"transform": [{"filter": "isValid(datum.t)"}], "mark": {"type": "rule", "color": "#c8c8c8", "strokeWidth": 1}, "encoding": {"x": {"datum": 0}, "y": {"datum": 32.2, "axis": null}, "y2": {"datum": -13}}},
{"transform": [{"filter": "isValid(datum.t)"}], "mark": {"type": "rule", "color": "#333333", "strokeWidth": 1}, "encoding": {"x": {"datum": -0.1734}, "y": {"datum": 32.2, "axis": null}, "y2": {"datum": -13}}},
{"transform": [{"filter": "isValid(datum.t)"}], "mark": {"type": "rule", "color": "#333333", "strokeWidth": 1}, "encoding": {"x": {"datum": 0.3606}, "y": {"datum": 32.2, "axis": null}, "y2": {"datum": -13}}},
{"transform": [{"filter": "datum.g == 'Average' && isValid(datum.t)"}], "mark": {"type": "rule", "color": "#c8c8c8", "strokeWidth": 1}, "encoding": {"x": {"datum": 0}, "y": {"datum": -13, "axis": null}, "y2": {"datum": -26}}},
{"transform": [{"filter": "datum.g == 'Average' && isValid(datum.t)"}], "mark": {"type": "rule", "color": "#333333", "strokeWidth": 1}, "encoding": {"x": {"datum": -0.1734}, "y": {"datum": -13, "axis": null}, "y2": {"datum": -26}}},
{"transform": [{"filter": "datum.g == 'Average' && isValid(datum.t)"}], "mark": {"type": "rule", "color": "#333333", "strokeWidth": 1}, "encoding": {"x": {"datum": 0.3606}, "y": {"datum": -13, "axis": null}, "y2": {"datum": -26}}},
{"transform": [{"filter": "isValid(datum.t)"}], "mark": {"type": "rule", "color": "#222222", "strokeWidth": 1.3}, "encoding": {"x": {"field": "lo", "type": "quantitative"}, "x2": {"field": "hi"}, "y": {"datum": 0, "axis": null}}},
{"transform": [{"filter": "isValid(datum.t)"}], "mark": {"type": "circle", "color": "black", "opacity": 1, "size": 80}, "encoding": {"x": {"field": "e", "type": "quantitative"}, "y": {"datum": 0, "axis": null}}},
{"transform": [{"filter": "isValid(datum.t)"}], "mark": {"type": "text", "align": "right", "baseline": "middle", "dx": -7, "fontSize": 17}, "encoding": {"x": {"datum": 0.3606}, "y": {"datum": 11.7, "axis": null}, "text": {"field": "t"}}},
{"transform": [{"filter": "isValid(datum.t) && datum.g != 'Average'"}], "mark": {"type": "text", "align": "right", "baseline": "middle", "dx": -11, "fontSize": 17}, "encoding": {"x": {"datum": -0.1734}, "y": {"datum": 0, "axis": null}, "text": {"field": "g"}}},
{"transform": [{"filter": "datum.g == 'Average' && isValid(datum.t)"}], "mark": {"type": "text", "align": "right", "baseline": "middle", "dx": -11, "fontSize": 17, "fontWeight": "bold"}, "encoding": {"x": {"datum": -0.1734}, "y": {"datum": 0, "axis": null}, "text": {"field": "g"}}},
{"transform": [{"filter": "isValid(datum.t)"}], "mark": {"type": "rule", "color": "#333333", "strokeWidth": 1}, "encoding": {"x": {"datum": -0.1734}, "x2": {"datum": -0.1789}, "y": {"datum": 0, "axis": null}}},
{"transform": [{"filter": "datum.g == 'Average' && isValid(datum.t)"}], "mark": {"type": "text", "align": "left", "baseline": "middle", "fontSize": 13, "color": "#4f8bc4"}, "encoding": {"x": {"datum": 0}, "y": {"datum": -11.5, "axis": null}, "text": {"field": "pct"}}}
]
}
},
{
"data": {"name": "D"},
"spacing": {"row": 0},
"bounds": "flush",
"facet": {"row": {"field": "g", "type": "nominal", "sort": ["_strip","The Crew 2","Outriders","GT Sport","Forza Horizon 4","EVE Online","Apex Legends","AC:NH","Average"], "header": {"title": null, "labels": false}}},
"spec": {
"width": 582, "height": 45,
"layer": [
{"transform": [{"filter": "isValid(datum.s)"}], "mark": {"type": "area", "interpolate": "monotone"},
 "encoding": {
  "x": {"field": "x", "type": "quantitative", "scale": {"domain": [-0.0775, 0.1041], "nice": false, "zero": false}, "axis": {"title": null, "values": [-0.06,-0.04,-0.02,0,0.02,0.04,0.06,0.08,0.1], "format": ".2f", "labelExpr": "replace(datum.label, '−', '-')", "offset": 13, "domainColor": "#333333", "tickColor": "#333333", "tickSize": 5, "labelFontSize": 15.5, "labelColor": "#333333", "labelPadding": 5, "grid": false, "labelFontWeight": 300, "labelFont": "Roboto"}},
  "y": {"field": "h", "type": "quantitative", "scale": {"domain": [-13, 32.2], "nice": false, "zero": false}, "axis": null, "stack": null},
  "y2": {"datum": 0},
  "detail": {"field": "s"},
  "color": {"condition": [{"test": "datum.g == 'Average' && datum.s == 'n'", "value": "#e94849"}, {"test": "datum.g == 'Average'", "value": "#5f98c6"}, {"test": "datum.s == 'n'", "value": "#f4a3a4"}], "value": "#afcbe3"}}},
{"transform": [{"filter": "datum.g == '_strip'"}], "mark": {"type": "rect", "color": "black"}, "encoding": {"x": {"datum": -0.0775}, "x2": {"datum": 0.1041}, "y": {"datum": 32.2, "axis": null}, "y2": {"datum": -13}}},
{"transform": [{"filter": "datum.g == '_strip'"}], "mark": {"type": "text", "text": "Life satisfaction", "align": "right", "baseline": "middle", "dx": 14.6, "fontSize": 17, "color": "white"}, "encoding": {"x": {"datum": 0.0133}, "y": {"datum": 11.5, "axis": null}}},
{"transform": [{"filter": "datum.g == '_strip'"}], "mark": {"type": "text", "text": "[t-1]", "align": "left", "baseline": "middle", "dx": 15.6, "dy": 4.5, "fontSize": 13, "color": "white"}, "encoding": {"x": {"datum": 0.0133}, "y": {"datum": 11.5, "axis": null}}},
{"transform": [{"filter": "datum.g == '_strip'"}], "mark": {"type": "text", "text": "→ Play", "align": "left", "baseline": "middle", "dx": 41.9, "fontSize": 17, "color": "white"}, "encoding": {"x": {"datum": 0.0133}, "y": {"datum": 11.5, "axis": null}}},
{"transform": [{"filter": "datum.g == '_strip'"}], "mark": {"type": "text", "text": "[t]", "align": "left", "baseline": "middle", "dx": 93.9, "dy": 4.5, "fontSize": 13, "color": "white"}, "encoding": {"x": {"datum": 0.0133}, "y": {"datum": 11.5, "axis": null}}},
{"transform": [{"filter": "isValid(datum.t)"}], "mark": {"type": "rule", "color": "#c0c0c0", "strokeWidth": 1}, "encoding": {"x": {"datum": 0}, "y": {"datum": 32.2, "axis": null}, "y2": {"datum": -13}}},
{"transform": [{"filter": "isValid(datum.t)"}], "mark": {"type": "rule", "color": "#333333", "strokeWidth": 1}, "encoding": {"x": {"datum": -0.0775}, "y": {"datum": 32.2, "axis": null}, "y2": {"datum": -13}}},
{"transform": [{"filter": "isValid(datum.t)"}], "mark": {"type": "rule", "color": "#333333", "strokeWidth": 1}, "encoding": {"x": {"datum": 0.1041}, "y": {"datum": 32.2, "axis": null}, "y2": {"datum": -13}}},
{"transform": [{"filter": "datum.g == 'Average' && isValid(datum.t)"}], "mark": {"type": "rule", "color": "#c0c0c0", "strokeWidth": 1}, "encoding": {"x": {"datum": 0}, "y": {"datum": -13, "axis": null}, "y2": {"datum": -26}}},
{"transform": [{"filter": "datum.g == 'Average' && isValid(datum.t)"}], "mark": {"type": "rule", "color": "#333333", "strokeWidth": 1}, "encoding": {"x": {"datum": -0.0775}, "y": {"datum": -13, "axis": null}, "y2": {"datum": -26}}},
{"transform": [{"filter": "datum.g == 'Average' && isValid(datum.t)"}], "mark": {"type": "rule", "color": "#333333", "strokeWidth": 1}, "encoding": {"x": {"datum": 0.1041}, "y": {"datum": -13, "axis": null}, "y2": {"datum": -26}}},
{"transform": [{"filter": "isValid(datum.t)"}], "mark": {"type": "rule", "color": "#222222", "strokeWidth": 1.3}, "encoding": {"x": {"field": "lo", "type": "quantitative"}, "x2": {"field": "hi"}, "y": {"datum": 0, "axis": null}}},
{"transform": [{"filter": "isValid(datum.t)"}], "mark": {"type": "circle", "color": "black", "opacity": 1, "size": 80}, "encoding": {"x": {"field": "e", "type": "quantitative"}, "y": {"datum": 0, "axis": null}}},
{"transform": [{"filter": "isValid(datum.t)"}], "mark": {"type": "text", "align": "right", "baseline": "middle", "dx": -7, "fontSize": 17}, "encoding": {"x": {"datum": 0.1041}, "y": {"datum": 11.7, "axis": null}, "text": {"field": "t"}}},
{"transform": [{"filter": "datum.g == 'Average' && isValid(datum.t)"}], "mark": {"type": "text", "align": "right", "baseline": "middle", "fontSize": 13, "color": "#e94849"}, "encoding": {"x": {"datum": 0}, "y": {"datum": -11.5, "axis": null}, "text": {"field": "pct"}}}
]
}
}
]
}
